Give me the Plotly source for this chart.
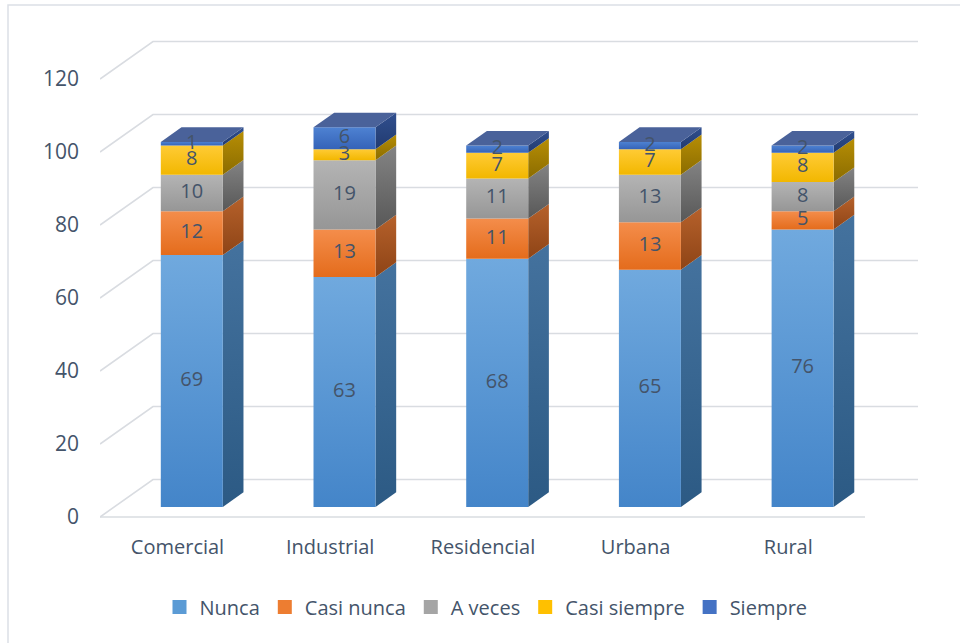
import plotly.graph_objects as go

# --- data -------------------------------------------------------------
categories = ["Comercial", "Industrial", "Residencial", "Urbana", "Rural"]
series_names = ["Nunca", "Casi nunca", "A veces", "Casi siempre", "Siempre"]
nunca = [69, 63, 68, 65, 76]
casi_nunca = [12, 13, 11, 13, 5]
a_veces = [10, 19, 11, 13, 8]
casi_siempre = [8, 3, 7, 7, 8]
siempre = [1, 6, 2, 2, 2]
y_ticks = [0, 20, 40, 60, 80, 100, 120]

series_values = [nunca, casi_nunca, a_veces, casi_siempre, siempre]

# --- styling ----------------------------------------------------------
FONT = "Open Sans"
TEXT = "#44546A"
GRID = "#D9DCE1"
# (front light, front dark, side light, side dark)
palette = {
    "Nunca": ("#70A9DE", "#4485C9", "#44729E", "#2C5A84"),
    "Casi nunca": ("#F48D4B", "#E46C1C", "#B6612B", "#8E4416"),
    "A veces": ("#B4B4B4", "#969696", "#838383", "#585858"),
    "Casi siempre": ("#FFCB35", "#F2B700", "#B78E05", "#8B6C00"),
    "Siempre": ("#4E82D2", "#3563B8", "#304F8F", "#223B70"),
}
legend_colors = {"Nunca": "#5B9BD5", "Casi nunca": "#ED7D31", "A veces": "#A5A5A5",
                 "Casi siempre": "#FFC000", "Siempre": "#4472C4"}
TOP_FACE = "#4A629A"

# --- page geometry (pixels) -------------------------------------------
W, H = 960, 643
ML, MR, MT, MB = 100, 30, 20, 118
plot_w, plot_h = W - ML - MR, H - MT - MB
px_per_unit = 3.65          # vertical pixels per value unit
px_per_cat = 152.7          # horizontal pixels per category
cat0_px = 177.5             # pixel x of the first category (front plane)
floor_px = 517              # pixel y of value 0 (front plane)

y_lo = -(MT + plot_h - floor_px) / px_per_unit
y_hi = y_lo + plot_h / px_per_unit
x_lo = (ML - cat0_px) / px_per_cat
x_hi = x_lo + plot_w / px_per_cat

# depth vector of the 3D box, in data units
DX = 53 / px_per_cat
DY = 37.5 / px_per_unit
D0, D1 = 0.27, 0.66          # bar front / back depth
BAR_W = 62 / px_per_cat
wall_left = x_lo
wall_right = (865 - cat0_px) / px_per_cat

fig = go.Figure()

# back wall grid and left wall diagonals
for v in y_ticks:
    fig.add_trace(go.Scatter(
        x=[wall_left, wall_left + DX, wall_right + DX],
        y=[v, v + DY, v + DY],
        mode="lines", line=dict(color=GRID, width=1.6),
        hoverinfo="skip", showlegend=False))
# floor front edge
fig.add_trace(go.Scatter(
    x=[wall_left, wall_right], y=[0, 0], mode="lines",
    line=dict(color=GRID, width=1.6), hoverinfo="skip", showlegend=False))


def poly(xs, ys, light, dark):
    return go.Scatter(
        x=xs + [xs[0]], y=ys + [ys[0]], mode="lines", fill="toself",
        line=dict(width=0), fillgradient=dict(
            type="vertical", colorscale=[[0, dark], [1, light]]),
        hoverinfo="skip", showlegend=False)


ddx = (D1 - D0) * DX
ddy = (D1 - D0) * DY
label_x, label_y, label_t = [], [], []
for i, cat in enumerate(categories):
    xc = i + D0 * DX
    xl, xr = xc - BAR_W / 2, xc + BAR_W / 2
    base = 0.0
    for name, vals in zip(series_names, series_values):
        val = vals[i]
        top = base + val
        fl, fd, sl, sd = palette[name]
        yb, yt = base + D0 * DY, top + D0 * DY
        # side face
        fig.add_trace(poly([xr, xr + ddx, xr + ddx, xr],
                           [yb, yb + ddy, yt + ddy, yt], sl, sd))
        # front face
        fig.add_trace(poly([xl, xr, xr, xl], [yb, yb, yt, yt], fl, fd))
        label_x.append(xc)
        label_y.append((base + top) / 2 + D0 * DY)
        label_t.append(str(val))
        base = top
    # top face of the stack
    yt = base + D0 * DY
    fig.add_trace(go.Scatter(
        x=[xl, xl + ddx, xr + ddx, xr, xl],
        y=[yt, yt + ddy, yt + ddy, yt, yt],
        mode="lines", fill="toself", fillcolor=TOP_FACE,
        line=dict(width=0), hoverinfo="skip", showlegend=False))

# data labels
fig.add_trace(go.Scatter(
    x=label_x, y=label_y, text=label_t, mode="text",
    textfont=dict(family=FONT, size=20, color=TEXT),
    hoverinfo="skip", showlegend=False))

# legend entries
for name in series_names:
    fig.add_trace(go.Scatter(
        x=[None], y=[None], mode="markers", name=name,
        marker=dict(symbol="square", size=14, color=legend_colors[name])))

# chart border (light frame)
fig.add_shape(type="rect", xref="paper", yref="paper",
              x0=(8 - ML) / plot_w, x1=1.5,
              y0=-0.5, y1=(MT + plot_h - 5) / plot_h,
              line=dict(color="#DCE0E6", width=1.5), layer="below")

fig.update_layout(
    width=W, height=H,
    margin=dict(l=ML, r=MR, t=MT, b=MB),
    paper_bgcolor="white", plot_bgcolor="white",
    font=dict(family=FONT, size=20, color=TEXT),
    xaxis=dict(range=[x_lo, x_hi], tickmode="array",
               tickvals=list(range(len(categories))), ticktext=categories,
               showgrid=False, zeroline=False, showline=False, ticks="",
               ticklabelstandoff=8, tickfont=dict(size=20, color=TEXT)),
    yaxis=dict(range=[y_lo, y_hi], tickmode="array", tickvals=y_ticks,
               showgrid=False, zeroline=False, showline=False, ticks="",
               ticklabelstandoff=20, tickfont=dict(size=21, color=TEXT)),
    legend=dict(orientation="h", x=(486 - ML) / plot_w, xanchor="center",
                y=(MT + plot_h - 607) / plot_h, yanchor="middle",
                font=dict(size=20, color=TEXT), itemwidth=30),
    showlegend=True,
)

fig.write_html("out.html")
